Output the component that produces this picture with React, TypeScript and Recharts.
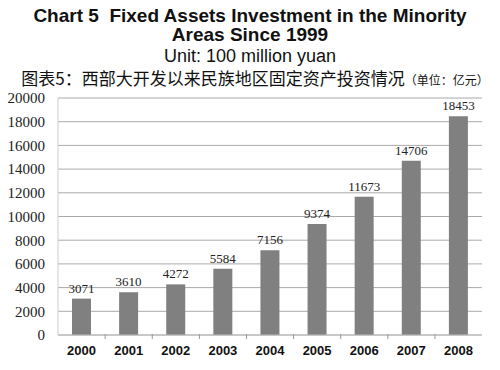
import React from 'react';
import { BarChart, Bar, XAxis, YAxis, CartesianGrid, LabelList } from 'recharts';

const years = ['2000', '2001', '2002', '2003', '2004', '2005', '2006', '2007', '2008'];
const investment = [3071, 3610, 4272, 5584, 7156, 9374, 11673, 14706, 18453];
const yTicks = [0, 2000, 4000, 6000, 8000, 10000, 12000, 14000, 16000, 18000, 20000];

const data = years.map((year, i) => ({ year, value: investment[i] }));

// x tick with a small mark at the left category boundary
function YearTick(props: any) {
  const { x, y, payload, index } = props;
  const half = 23.5;
  return (
    <g>
      {index > 0 && <line x1={x - half} x2={x - half} y1={y - 9} y2={y - 4} stroke="#999" />}
      <text x={x} y={y + 12} textAnchor="middle" fontFamily="'Liberation Sans', Arial, sans-serif"
        fontWeight="bold" fontSize={13} fill="#111">
        {payload.value}
      </text>
    </g>
  );
}

export default function App() {
  return (
    <div style={{ position: 'absolute', left: 0, top: 0, width: 500, height: 370, background: '#fff', overflow: 'hidden' }}>
      <div style={{ position: 'absolute', top: 6, left: 0, width: 500, textAlign: 'center', color: '#111',
        fontFamily: "'Liberation Sans', Arial, sans-serif" }}>
        <div style={{ fontWeight: 'bold', fontSize: 19, lineHeight: '19px', letterSpacing: 0 }}>
          Chart 5&nbsp;&nbsp;Fixed Assets Investment in the Minority
        </div>
        <div style={{ fontWeight: 'bold', fontSize: 19, lineHeight: '19px' }}>
          Areas Since 1999
        </div>
        <div style={{ fontSize: 18, lineHeight: '22px', marginTop: 1 }}>Unit: 100 million yuan</div>
        <div style={{ fontSize: 17, lineHeight: '22px', paddingLeft: 10, fontFamily: "'Noto Sans CJK SC', sans-serif" }}>
          图表5：西部大开发以来民族地区固定资产投资情况<span style={{ fontSize: 12 }}>（单位：亿元）</span>
        </div>
      </div>
      <div style={{ position: 'absolute', left: 0, top: 0 }}>
        <BarChart width={500} height={370} data={data}
          margin={{ top: 98, right: 18, left: 8, bottom: 5 }} barCategoryGap="30%">
          <CartesianGrid vertical={false} stroke="#aaa" />
          <XAxis dataKey="year" height={30} tickLine={false} axisLine={{ stroke: '#bbb' }}
            tick={<YearTick />} interval={0} />
          <YAxis width={50} domain={[0, 20000]} ticks={yTicks} interval={0} tickLine={false}
            axisLine={{ stroke: '#ccc' }} tickSize={6} tickMargin={7}
            tick={{ fontFamily: "'Liberation Serif', 'Times New Roman', serif", fontSize: 15, fill: '#222' }} />
          <Bar dataKey="value" fill="#808080" barSize={19} isAnimationActive={false}>
            <LabelList dataKey="value" position="top" offset={6}
              style={{ fontFamily: "'Liberation Serif', 'Times New Roman', serif", fontSize: 13, fill: '#222' }} />
          </Bar>
        </BarChart>
      </div>
    </div>
  );
}
